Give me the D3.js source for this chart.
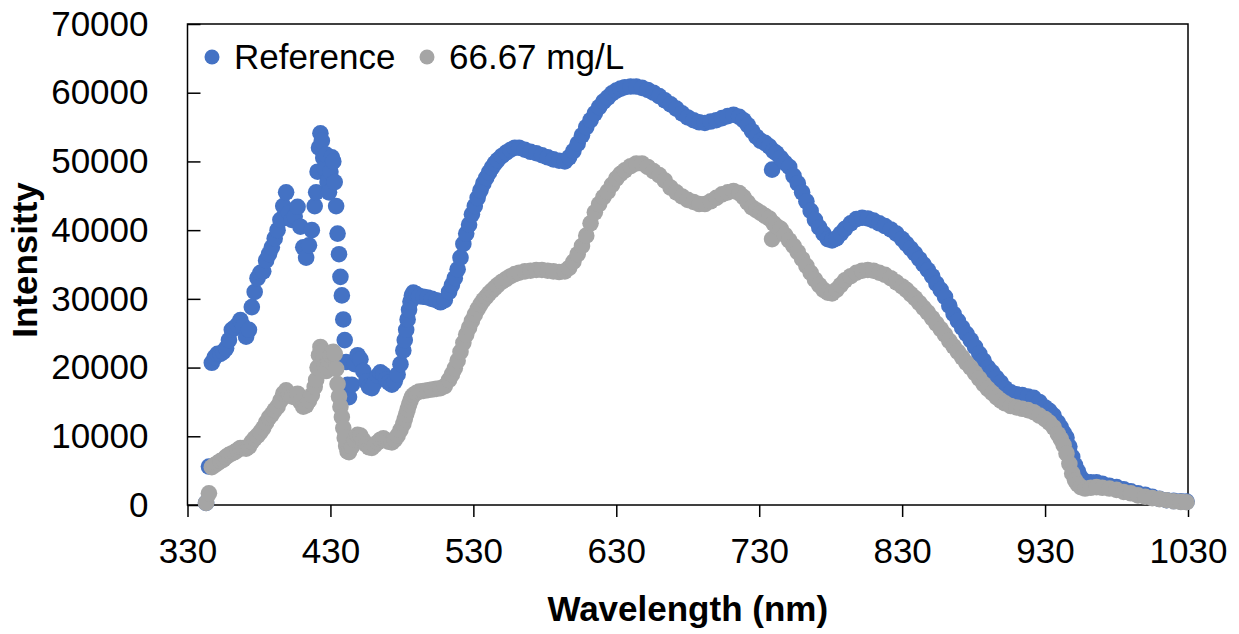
<!DOCTYPE html>
<html>
<head>
<meta charset="utf-8">
<title>Intensity spectrum</title>
<script src="https://cdn.jsdelivr.net/npm/d3@7"></script>
<style>
  body { margin: 0; background: #fff; }
  svg { display: block; font-family: "Liberation Sans", Arial, sans-serif; }
</style>
</head>
<body>
<svg id="chart" width="1239" height="634"></svg>
<script>
// wavelength (nm), shared by both series
var wavelengths = [
  343, 345, 347, 349, 351, 353, 355, 357, 359, 361,
  363, 365, 367, 369, 371, 373, 375, 377, 379, 381,
  383, 385, 387, 389, 391, 393, 395, 397, 399, 401,
  403, 405, 407, 409, 411, 413, 415, 417, 419, 420,
  421, 422, 423, 424, 425, 426, 427, 428, 429, 430,
  431, 432, 433, 434, 435, 436, 437, 438, 439, 440,
  441, 442, 443, 445, 447, 449, 451, 453, 455, 457,
  459, 461, 463, 465, 467, 469, 471, 473, 475, 477,
  479, 481, 482, 483, 484, 485, 486, 487, 488, 490,
  492, 495, 498, 501, 504, 507, 510, 513, 515, 517,
  519, 521, 523, 525, 527, 529, 531, 533, 535, 537,
  539, 541, 543, 545, 547, 550, 553, 556, 559, 562,
  566, 570, 574, 578, 582, 586, 590, 594, 597, 600,
  603, 606, 609, 612, 615, 618, 621, 624, 627, 630,
  633, 636, 640, 644, 648, 652, 656, 660, 664, 668,
  672, 676, 680, 684, 688, 692, 696, 700, 704, 708,
  712, 716, 719, 722, 725, 728, 731, 734, 737, 739,
  740, 742, 745, 748, 751, 754, 757, 760, 763, 766,
  769, 772, 775, 778, 781, 784, 787, 790, 794, 798,
  802, 806, 810, 814, 818, 822, 826, 830, 833, 836,
  839, 842, 845, 848, 851, 854, 857, 860, 863, 866,
  869, 872, 875, 878, 881, 884, 887, 890, 893, 896,
  899, 902, 906, 910, 914, 918, 922, 926, 930, 933,
  936, 939, 941, 943, 945, 947, 949, 951, 953, 955,
  958, 962, 966, 970, 975, 980, 985, 990, 995, 1000,
  1005, 1010, 1015, 1020, 1025, 1029
];

var referenceValues = [
  300, 5600, 20700, 21500, 22000, 22000, 22300, 22800, 24000, 25500,
  25800, 26200, 26900, 26000, 24500, 25500, 28800, 31000, 33000, 33800,
  34000, 35600, 36500, 37500, 38800, 40000, 41500, 43500, 45500, 42500,
  41500, 42000, 43400, 40500, 37500, 36000, 37800, 40000, 43500, 45500,
  48500, 52000, 54100, 53000, 50500, 49000, 51000, 47000, 45500, 48500,
  50600, 50000, 47000, 43500, 39500, 36500, 33200, 30500, 27000, 24000,
  20800, 17500, 15700, 17500, 20500, 21800, 21200, 19500, 18000, 17200,
  17000, 17800, 18800, 19300, 19000, 18300, 17800, 17500, 18000, 19000,
  20500, 22500, 24000, 25500, 27000, 28400, 29600, 30500, 30900, 30700,
  30400, 30300, 30200, 30000, 29800, 29500, 29800, 31000, 32000, 33000,
  34300, 36000, 38000, 39500, 40800, 42300, 43500, 44700, 45800, 46800,
  47600, 48400, 49100, 49700, 50200, 50800, 51300, 51700, 52000, 52000,
  51700, 51400, 51200, 50900, 50600, 50300, 50100, 50000, 50600, 51500,
  52600, 53800, 55000, 56000, 57000, 57900, 58700, 59300, 59900, 60300,
  60600, 60800, 60900, 60900, 60700, 60400, 60000, 59500, 58900, 58300,
  57700, 57000, 56400, 56000, 55700, 55600, 55800, 56000, 56300, 56600,
  56800, 56500, 56000, 55300, 54400, 53600, 53000, 52700, 52200, 48800,
  51500, 51200, 50500, 49800, 49200, 47900, 46800, 45500, 44200, 42800,
  41500, 40400, 39500, 38700, 38500, 38800, 39500, 40200, 41000, 41600,
  41800, 41700, 41400, 41000, 40600, 40100, 39500, 38700, 38000, 37300,
  36600, 35800, 35000, 34200, 33300, 32200, 31300, 30300, 29000, 27800,
  26800, 25800, 24900, 24000, 23000, 22000, 21000, 20000, 19300, 18500,
  17800, 17000, 16400, 16100, 16000, 15800, 15600, 15000, 14200, 13700,
  13000, 12000, 11300, 10500, 9800, 8500, 7000, 5800, 4900, 4000,
  3400, 3300, 3300, 3100, 2800, 2600, 2300, 2000, 1700, 1500,
  1200, 900, 700, 600, 550, 500
];

var sampleValues = [
  300, 1700, 5500, 5800, 6100, 6400, 6600, 7000, 7300, 7500,
  7700, 8000, 8300, 8300, 8200, 8500, 9200, 9700, 10100, 10600,
  11200, 12000, 12700, 13200, 13800, 14300, 15200, 16200, 16700, 16200,
  15800, 15700, 16200, 15000, 14300, 14500, 15200, 16000, 17200, 18200,
  20000, 21800, 23000, 22300, 21200, 20200, 19500, 20000, 21000, 21800,
  22200, 22300, 22000, 19800, 17600, 15800, 14300, 12800, 11200, 9800,
  8600, 7800, 7700, 8500, 9500, 10200, 10100, 9400, 8800, 8400,
  8300, 8700, 9100, 9500, 9700, 9400, 9200, 9100, 9500, 10100,
  10900, 11800, 12500, 13200, 13900, 14600, 15200, 15700, 16000, 16300,
  16500, 16600, 16700, 16800, 16900, 17000, 17300, 18200, 19000, 19900,
  21000, 22300, 23600, 24800, 25800, 26800, 27700, 28500, 29200, 29800,
  30300, 30800, 31200, 31600, 32000, 32500, 32900, 33300, 33600, 33800,
  34000, 34100, 34200, 34200, 34100, 34000, 33900, 34000, 34500, 35400,
  36500, 37700, 39200, 41000, 42600, 43800, 44800, 45600, 46600, 47500,
  48200, 48700, 49300, 49700, 49700, 49200, 48600, 48000, 47200, 46200,
  45500, 44900, 44400, 44100, 43800, 43800, 44200, 44700, 45200, 45500,
  45700, 45400, 44800, 44000, 43300, 42900, 42500, 42100, 41700, 38700,
  41000, 40600, 40200, 39300, 38500, 37700, 36800, 35800, 34800, 33800,
  32800, 32000, 31300, 30900, 30800, 31300, 32000, 32700, 33300, 33800,
  34100, 34200, 34100, 33800, 33500, 33000, 32400, 31800, 31300, 30700,
  30100, 29400, 28700, 28000, 27200, 26400, 25600, 24800, 23900, 23100,
  22300, 21500, 20700, 20000, 19200, 18400, 17600, 16900, 16300, 15700,
  15200, 14800, 14400, 14200, 14000, 13800, 13500, 13000, 12500, 12000,
  11300, 10300, 9600, 8700, 7500, 6000, 4600, 3600, 3000, 2600,
  2400, 2500, 2600, 2500, 2400, 2200, 1900, 1700, 1400, 1200,
  1000, 850, 700, 550, 450, 400
];

var seriesNames = ['Reference', '66.67 mg/L'];
var seriesColors = ['#4472C4', '#A5A5A5'];
var xTicks = [330, 430, 530, 630, 730, 830, 930, 1030];
var yTicks = [0, 10000, 20000, 30000, 40000, 50000, 60000, 70000];

var svg = d3.select('#chart');
var plotLeft = 187.5, plotRight = 1188, plotTop = 24, plotBottom = 505;

var x = d3.scaleLinear().domain([330, 1030]).range([plotLeft, plotRight]);
var y = d3.scaleLinear().domain([0, 70000]).range([plotBottom, plotTop]);

function styleAxis(g) {
  g.select('.domain').remove();
  g.selectAll('line').attr('stroke', '#000').attr('stroke-width', 1.5);
  g.selectAll('text').attr('font-size', 35).attr('fill', '#000')
    .attr('font-family', '"Liberation Sans", Arial, sans-serif');
}

// axes
svg.append('g')
  .attr('transform', 'translate(0,' + plotBottom + ')')
  .call(d3.axisBottom(x).tickValues(xTicks).tickFormat(d3.format('d'))
    .tickSizeInner(12).tickSizeOuter(0).tickPadding(21))
  .call(styleAxis);

svg.append('g')
  .attr('transform', 'translate(' + plotLeft + ',0)')
  .call(d3.axisLeft(y).tickValues(yTicks).tickFormat(d3.format('d'))
    .tickSizeInner(-13).tickSizeOuter(0).tickPadding(39))
  .call(styleAxis);

// plot frame
svg.append('rect')
  .attr('x', plotLeft).attr('y', plotTop)
  .attr('width', plotRight - plotLeft).attr('height', plotBottom - plotTop)
  .attr('fill', 'none').attr('stroke', '#000').attr('stroke-width', 1.5);

// scatter points, reference first so the sample sits on top
var series = [referenceValues, sampleValues];
series.forEach(function (vals, i) {
  svg.append('g')
    .selectAll('circle')
    .data(wavelengths)
    .enter()
    .append('circle')
    .attr('cx', function (d) { return x(d); })
    .attr('cy', function (d, j) { return y(vals[j]); })
    .attr('r', 8.3)
    .attr('fill', seriesColors[i]);
});

// legend
var legendX = [212, 427];
seriesNames.forEach(function (name, i) {
  svg.append('circle')
    .attr('cx', legendX[i]).attr('cy', 57).attr('r', 7.5)
    .attr('fill', seriesColors[i]);
  svg.append('text')
    .attr('x', legendX[i] + 22).attr('y', 57)
    .attr('dy', '0.35em')
    .attr('font-size', 35)
    .text(name);
});

// axis titles
svg.append('text')
  .attr('x', (plotLeft + plotRight) / 2).attr('y', 609)
  .attr('dy', '0.35em')
  .attr('text-anchor', 'middle')
  .attr('font-size', 35).attr('font-weight', 'bold')
  .text('Wavelength (nm)');

svg.append('text')
  .attr('transform', 'translate(25,260) rotate(-90)')
  .attr('dy', '0.35em')
  .attr('text-anchor', 'middle')
  .attr('font-size', 35).attr('font-weight', 'bold')
  .text('Intensitty');
</script>
</body>
</html>
